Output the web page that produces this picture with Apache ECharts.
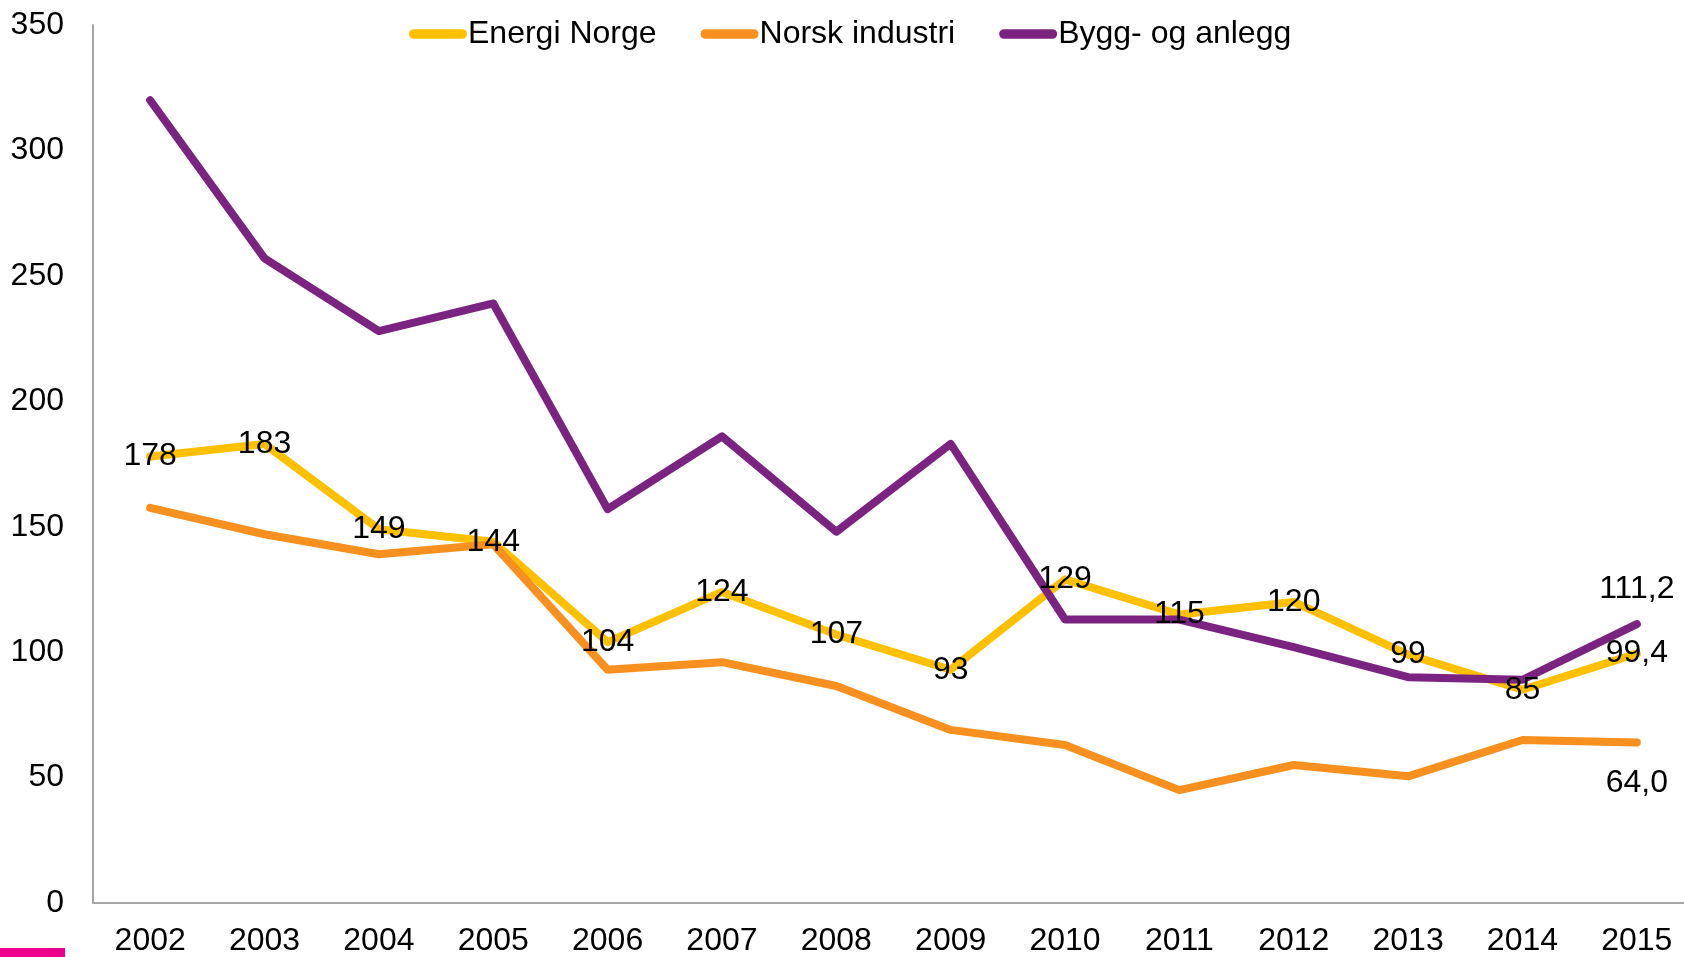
<!DOCTYPE html>
<html>
<head>
<meta charset="utf-8">
<script src="https://cdn.jsdelivr.net/npm/echarts@6/dist/echarts.min.js"></script>
<style>
  html, body { margin: 0; padding: 0; background: #fff; }
  #chart { width: 1684px; height: 957px; }
</style>
</head>
<body>
<div id="chart"></div>
<script>
const years = ['2002', '2003', '2004', '2005', '2006', '2007', '2008', '2009', '2010', '2011', '2012', '2013', '2014', '2015'];
const energiNorge = [178, 183, 149, 144, 104, 124, 107, 93, 129, 115, 120, 99, 85, 99.4];
const norskIndustri = [157.5, 147, 139, 143, 93, 96, 86.5, 69, 63, 45, 55, 50.5, 65, 64.0];
const byggAnlegg = [320, 257, 228, 239, 157, 186, 148, 183, 113, 113, 102, 90, 89, 111.2];

const FONT = "'Liberation Sans', Arial, sans-serif";
const last = years.length - 1;

// siste punkt vises med én desimal og komma
const fmt = (p) => p.dataIndex === last
  ? p.value.toFixed(1).replace('.', ',')
  : String(p.value);

// bygg dataobjekter, etikett bare der den skal vises
const withLabels = (arr, which, labelCfg) => arr.map((v, i) => ({
  value: v,
  label: which(i) ? Object.assign({ show: true }, labelCfg) : { show: false }
}));

const capsule = 'path://M5,0 L55,0 A5,5 0 0 1 55,10 L5,10 A5,5 0 0 1 5,0 Z';

const myChart = echarts.init(document.getElementById('chart'));

const option = {
  backgroundColor: '#ffffff',
  animation: false,
  textStyle: { fontFamily: FONT },
  legend: {
    left: 404,
    top: 13,
    itemGap: 44,
    itemWidth: 58,
    itemHeight: 10,
    icon: capsule,
    textStyle: { fontSize: 32, color: '#000', fontFamily: FONT, padding: [0, 0, 0, -4] },
    data: ['Energi Norge', 'Norsk industri', 'Bygg- og anlegg']
  },
  grid: { left: 93, width: 1601, top: 25, bottom: 54, containLabel: false, outerBoundsMode: 'none' },
  xAxis: {
    type: 'category',
    data: years,
    boundaryGap: true,
    axisLine: { lineStyle: { color: '#a6a6a6', width: 2 } },
    axisTick: { show: false },
    axisLabel: { fontSize: 32, color: '#000', margin: 22, fontFamily: FONT, interval: 0 }
  },
  yAxis: {
    type: 'value',
    min: 0,
    max: 350,
    interval: 50,
    axisLine: { show: true, lineStyle: { color: '#a6a6a6', width: 2 } },
    axisTick: { show: false },
    splitLine: { show: false },
    axisLabel: { fontSize: 32, color: '#000', margin: 29, fontFamily: FONT }
  },
  graphic: [{
    type: 'rect',
    left: 0,
    top: 948,
    shape: { width: 65, height: 9 },
    style: { fill: '#ec008c' }
  }],
  series: [
    {
      name: 'Energi Norge',
      type: 'line',
      symbol: 'circle',
      symbolSize: 1,
      itemStyle: { color: '#ffc000' },
      lineStyle: { width: 8, color: '#ffc000', cap: 'round', join: 'round' },
      label: { fontSize: 32, color: '#000', fontFamily: FONT, formatter: fmt },
      data: withLabels(energiNorge, () => true, { position: 'inside' })
    },
    {
      name: 'Norsk industri',
      type: 'line',
      symbol: 'circle',
      symbolSize: 1,
      itemStyle: { color: '#f7901e' },
      lineStyle: { width: 8, color: '#f7901e', cap: 'round', join: 'round' },
      label: { fontSize: 32, color: '#000', fontFamily: FONT, formatter: fmt },
      data: withLabels(norskIndustri, (i) => i === last, { position: 'bottom', distance: 24 })
    },
    {
      name: 'Bygg- og anlegg',
      type: 'line',
      symbol: 'circle',
      symbolSize: 1,
      itemStyle: { color: '#7a2380' },
      lineStyle: { width: 8, color: '#7a2380', cap: 'round', join: 'round' },
      label: { fontSize: 32, color: '#000', fontFamily: FONT, formatter: fmt },
      data: withLabels(byggAnlegg, (i) => i === last, { position: 'top', distance: 18 })
    }
  ]
};

myChart.setOption(option);
</script>
</body>
</html>
